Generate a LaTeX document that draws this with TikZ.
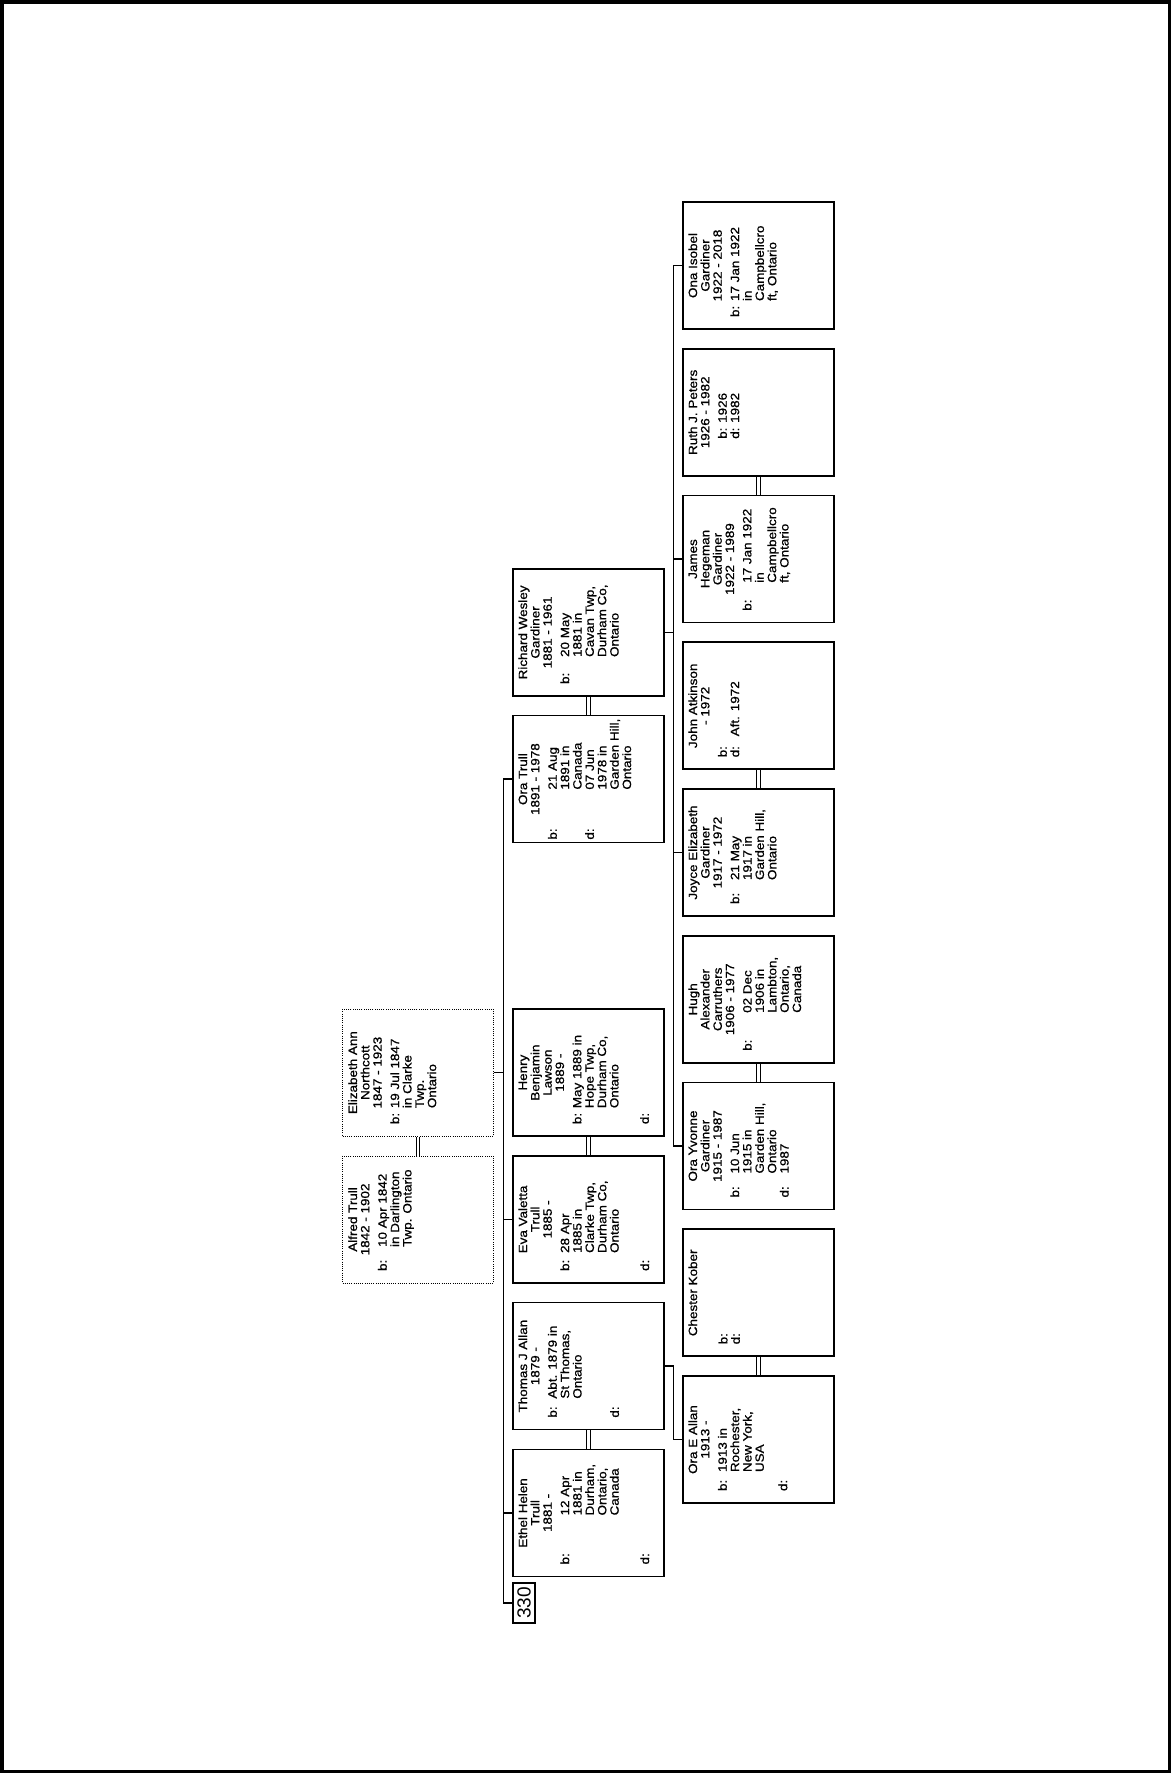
\documentclass[tikz,border=0pt]{standalone}
\usepackage{fontspec}
\usepackage{array}
\setmainfont{Liberation Sans}
\newfontfamily\chartfont[FakeBold=0.8,FakeStretch=1.12]{Liberation Sans}
\newcommand{\nm}[1]{\multicolumn{2}{@{}c@{}}{\makebox[103pt]{#1}}}
\newcommand{\ptext}[2]{\begin{tabular}{@{}p{#1}@{}l@{}}#2\end{tabular}}

\begin{document}
\begin{tikzpicture}[x=1pt, y=-1pt,
  pbox/.style={draw, line width=1.7pt, minimum width=151pt, minimum height=127pt, inner sep=0pt},
  dbox/.style={pbox, line width=0.8pt, dash pattern=on 1pt off 1.2pt},
  info/.style={rotate=90, anchor=north, inner sep=0pt, font=\chartfont\fontsize{12}{12.3}\selectfont},
  link/.style={line width=1.5pt},
  wed/.style={double, double distance=2.4pt, line width=1pt}]

  \useasboundingbox (0,0) rectangle (1171,1773);
  \draw[line width=3.5pt] (1.75,1.75) rectangle (1169.25,1771.25);

  % first generation
  \node[dbox] (elizabeth) at (418,1072.6) {};
  \node[info] (elizabeth-t) at ([xshift=6pt]elizabeth.west) {\ptext{16pt}{\nm{Elizabeth Ann}\\ \nm{Northcott}\\ \nm{1847 - 1923}\\[5pt]
    b: & 19 Jul 1847\\ & in Clarke\\ & Twp.\\ & Ontario}};
  \node[dbox] (alfred) at (418,1219.4) {};
  \node[info] (alfred-t) at ([xshift=6pt]alfred.west) {\ptext{24pt}{\nm{Alfred Trull}\\ \nm{1842 - 1902}\\[5pt]
    b: & 10 Apr 1842\\ & in Darlington\\ & Twp. Ontario}};

  % second generation
  \node[pbox] (richard) at (588.5,632.4) {};
  \node[info] (richard-t) at ([xshift=6pt]richard.west) {\ptext{27pt}{\nm{Richard Wesley}\\ \nm{Gardiner}\\ \nm{1881 - 1961}\\[5pt]
    b: & 20 May\\ & 1881 in\\ & Cavan Twp,\\ & Durham Co,\\ & Ontario}};
  \node[pbox] (oratrull) at (588.5,779.1) {};
  \node[info] (oratrull-t) at ([xshift=6pt]oratrull.west) {\ptext{50pt}{\nm{Ora Trull}\\ \nm{1891 - 1978}\\[5pt]
    b: & 21 Aug\\ & 1891 in\\ & Canada\\ d: & 07 Jun\\ & 1978 in\\ & Garden Hill,\\ & Ontario}};
  \node[pbox] (henry) at (588.5,1072.6) {};
  \node[info] (henry-t) at ([xshift=6pt]henry.west) {\ptext{16pt}{\nm{Henry}\\ \nm{Benjamin}\\ \nm{Lawson}\\ \nm{1889 -}\\[5pt]
    b: & May 1889 in\\ & Hope Twp,\\ & Durham Co,\\ & Ontario\\[18pt] d: &}};
  \node[pbox] (eva) at (588.5,1219.4) {};
  \node[info] (eva-t) at ([xshift=6pt]eva.west) {\ptext{18pt}{\nm{Eva Valetta}\\ \nm{Trull}\\ \nm{1885 -}\\[5pt]
    b: & 28 Apr\\ & 1885 in\\ & Clarke Twp,\\ & Durham Co,\\ & Ontario\\[18pt] d: &}};
  \node[pbox] (thomas) at (588.5,1366.1) {};
  \node[info] (thomas-t) at ([xshift=6pt]thomas.west) {\ptext{19pt}{\nm{Thomas J Allan}\\ \nm{1879 -}\\[5pt]
    b: & Abt. 1879 in\\ & St Thomas,\\ & Ontario\\[25pt] d: &}};
  \node[pbox] (ethel) at (588.5,1512.9) {};
  \node[info] (ethel-t) at ([xshift=6pt]ethel.west) {\ptext{49pt}{\nm{Ethel Helen}\\ \nm{Trull}\\ \nm{1881 -}\\[5pt]
    b: & 12 Apr\\ & 1881 in\\ & Durham,\\ & Ontario,\\ & Canada\\[18pt] d: &}};

  % third generation
  \node[pbox] (ona) at (758.5,265.5) {};
  \node[info] (ona-t) at ([xshift=6pt]ona.west) {\ptext{16pt}{\nm{Ona Isobel}\\ \nm{Gardiner}\\ \nm{1922 - 2018}\\[5pt]
    b: & 17 Jan 1922\\ & in\\ & Campbellcro\\ & ft, Ontario}};
  \node[pbox] (ruth) at (758.5,412.3) {};
  \node[info] (ruth-t) at ([xshift=6pt]ruth.west) {\ptext{41pt}{\nm{Ruth J. Peters}\\ \nm{1926 - 1982}\\[5pt]
    \hspace*{25pt}b: & 1926\\ \hspace*{25pt}d: & 1982}};
  \node[pbox] (james) at (758.5,559) {};
  \node[info] (james-t) at ([xshift=6pt]james.west) {\ptext{28pt}{\nm{James}\\ \nm{Hegeman}\\ \nm{Gardiner}\\ \nm{1922 - 1989}\\[5pt]
    b: & 17 Jan 1922\\ & in\\ & Campbellcro\\ & ft, Ontario}};
  \node[pbox] (john) at (758.5,705.8) {};
  \node[info] (john-t) at ([xshift=6pt]john.west) {\ptext{21pt}{\nm{John Atkinson}\\ \nm{- 1972}\\[5pt]
    b: & \\ d: & Aft. 1972}};
  \node[pbox] (joyce) at (758.5,852.5) {};
  \node[info] (joyce-t) at ([xshift=6pt]joyce.west) {\ptext{24pt}{\nm{Joyce Elizabeth}\\ \nm{Gardiner}\\ \nm{1917 - 1972}\\[5pt]
    b: & 21 May\\ & 1917 in\\ & Garden Hill,\\ & Ontario}};
  \node[pbox] (hugh) at (758.5,999.3) {};
  \node[info] (hugh-t) at ([xshift=6pt]hugh.west) {\ptext{38pt}{\nm{Hugh}\\ \nm{Alexander}\\ \nm{Carruthers}\\ \nm{1906 - 1977}\\[5pt]
    b: & 02 Dec\\ & 1906 in\\ & Lambton,\\ & Ontario,\\ & Canada}};
  \node[pbox] (orayvonne) at (758.5,1146) {};
  \node[info] (orayvonne-t) at ([xshift=6pt]orayvonne.west) {\ptext{24pt}{\nm{Ora Yvonne}\\ \nm{Gardiner}\\ \nm{1915 - 1987}\\[5pt]
    b: & 10 Jun\\ & 1915 in\\ & Garden Hill,\\ & Ontario\\ d: & 1987}};
  \node[pbox] (chester) at (758.5,1292.8) {};
  \node[info] (chester-t) at ([xshift=6pt]chester.west) {\ptext{16pt}{\nm{Chester Kober}\\[18pt]
    b: & \\ d: &}};
  \node[pbox] (oraallan) at (758.5,1439.5) {};
  \node[info] (oraallan-t) at ([xshift=6pt]oraallan.west) {\ptext{19pt}{\nm{Ora E Allan}\\ \nm{1913 -}\\[5pt]
    b: & 1913 in\\ & Rochester,\\ & New York,\\ & USA\\[11pt] d: &}};

  % chart number
  \node[draw, line width=1.5pt, rotate=90, minimum width=40pt, minimum height=22pt, inner sep=0pt,
    font=\fontsize{19}{19}\selectfont] (chart) at (524,1603) {330};

  % couples
  \draw[wed] (alfred.north) -- (elizabeth.south);
  \draw[wed] (oratrull.north) -- (richard.south);
  \draw[wed] (eva.north) -- (henry.south);
  \draw[wed] (ethel.north) -- (thomas.south);
  \draw[wed] (james.north) -- (ruth.south);
  \draw[wed] (joyce.north) -- (john.south);
  \draw[wed] (orayvonne.north) -- (hugh.south);
  \draw[wed] (oraallan.north) -- (chester.south);

  % descent lines
  \coordinate (trunk) at (503.5,0);
  \coordinate (kids) at (673.5,0);
  \draw[link] (elizabeth.east) -- (elizabeth.east -| trunk);
  \draw[link] (oratrull.west) -| (trunk |- chart.north) -- (chart.north);
  \draw[link] (eva.west -| trunk) -- (eva.west);
  \draw[link] (ethel.west -| trunk) -- (ethel.west);
  \draw[link] (richard.east) -- (richard.east -| kids);
  \draw[link] (ona.west) -| (kids |- orayvonne.west) -- (orayvonne.west);
  \draw[link] (james.west -| kids) -- (james.west);
  \draw[link] (joyce.west -| kids) -- (joyce.west);
  \draw[link] (thomas.east) -| (kids |- oraallan.west) -- (oraallan.west);
\end{tikzpicture}
\end{document}
